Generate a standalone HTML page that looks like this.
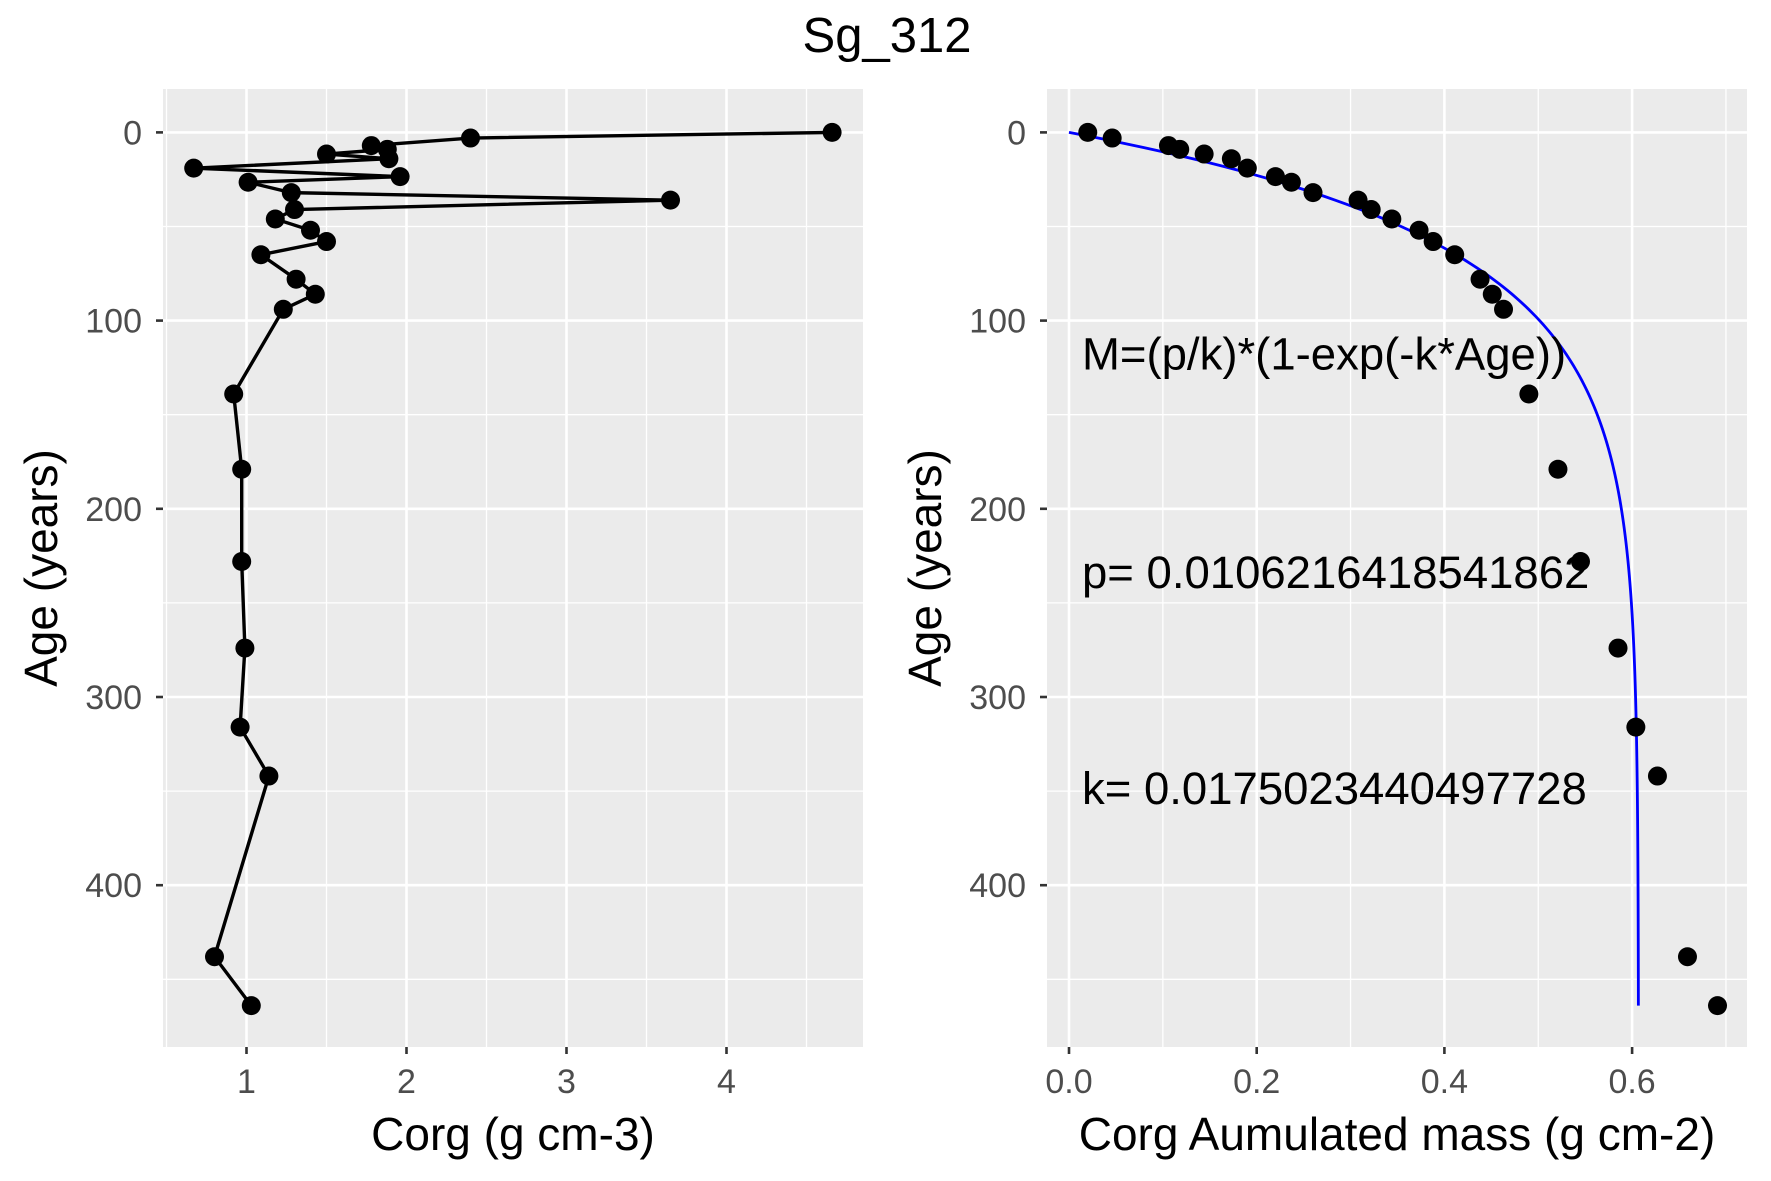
<!DOCTYPE html>
<html><head><meta charset="utf-8"><style>
body{margin:0;background:#fff;}
svg{display:block;font-family:"Liberation Sans",sans-serif;}
</style></head><body>
<svg id="chart" width="1771" height="1181">
<text x="887" y="52" font-size="49" text-anchor="middle">Sg_312</text>
<g id="left"></g>
<g id="right"></g>
</svg>
<script>
const ages = [0,3,7,9,11.5,14,19,23.5,26.5,32,36,41,46,52,58,65,78,86,94,139,179,228,274,316,342,438,464];
const corg = [4.66,2.40,1.78,1.88,1.50,1.89,0.67,1.96,1.01,1.28,3.65,1.30,1.18,1.40,1.50,1.09,1.31,1.43,1.23,0.92,0.97,0.97,0.99,0.96,1.14,0.80,1.03];
const cumMass = [0.020,0.046,0.106,0.118,0.144,0.173,0.190,0.220,0.237,0.260,0.308,0.322,0.344,0.373,0.388,0.411,0.438,0.451,0.463,0.490,0.521,0.545,0.585,0.604,0.627,0.659,0.691];
const fitP = 0.0106216418541862;
const fitK = 0.0175023440497728;
const yTicks = [0,100,200,300,400];
const yMinor = [50,150,250,350,450];
const leftXTicks = [1,2,3,4];
const leftXMinor = [0.5,1.5,2.5,3.5,4.5];
const rightXTicks = [0,0.2,0.4,0.6];
const rightXTickLabels = ["0.0","0.2","0.4","0.6"];
const rightXMinor = [0.1,0.3,0.5,0.7];
const annotations = ["M=(p/k)*(1-exp(-k*Age))","p= 0.0106216418541862","k= 0.0175023440497728"];
const annotAges = [118,234,349];

const NS="http://www.w3.org/2000/svg";
function mk(parent,tag,attrs){const e=document.createElementNS(NS,tag);for(const k in attrs)e.setAttribute(k,attrs[k]);parent.appendChild(e);return e;}
const pTop=89,pBot=1047;
const yS=a=>132.4+a*1.882;

function panel(g,x0,x1,xS,xt,xtl,xm,xtitle,name){
  const bg=mk(g,'rect',{x:x0,y:pTop,width:x1-x0,height:pBot-pTop,fill:'#ebebeb'});
  
  
  yMinor.forEach(v=>{const l=mk(g,'line',{x1:x0,x2:x1,y1:yS(v),y2:yS(v),stroke:'#fff','stroke-width':1.3});
    
    });
  xm.forEach(v=>{const X=xS(v);if(X<x0||X>x1)return;const l=mk(g,'line',{x1:X,x2:X,y1:pTop,y2:pBot,stroke:'#fff','stroke-width':1.3});
    
    });
  yTicks.forEach(v=>{const Y=yS(v);
    const l=mk(g,'line',{x1:x0,x2:x1,y1:Y,y2:Y,stroke:'#fff','stroke-width':2.6});
    
    
    const t=mk(g,'line',{x1:x0-7,x2:x0,y1:Y,y2:Y,stroke:'#333','stroke-width':2.6});
    
    
    const tx=mk(g,'text',{x:x0-21,y:Y+12,'font-size':34,fill:'#4d4d4d','text-anchor':'end'});tx.textContent=v;
    
    });
  xt.forEach((v,i)=>{const X=xS(v);
    const l=mk(g,'line',{x1:X,x2:X,y1:pTop,y2:pBot,stroke:'#fff','stroke-width':2.6});
    
    
    const t=mk(g,'line',{x1:X,x2:X,y1:pBot,y2:pBot+7,stroke:'#333','stroke-width':2.6});
    
    
    const tx=mk(g,'text',{x:X,y:pBot+46,'font-size':34,fill:'#4d4d4d','text-anchor':'middle'});tx.textContent=xtl[i];
    
    });
  const xtT=mk(g,'text',{x:(x0+x1)/2,y:1150,'font-size':46,'text-anchor':'middle'});xtT.textContent=xtitle;
  
  
  const yc=(pTop+pBot)/2, yx=x0-106;
  const ytT=mk(g,'text',{x:yx,y:yc,'font-size':46,'text-anchor':'middle',transform:`rotate(-90 ${yx} ${yc})`});ytT.textContent='Age (years)';
  
  
}

// left
const L=document.getElementById('left');
const lxS=v=>246.5+(v-1)*160;
panel(L,163,863,lxS,leftXTicks,leftXTicks.map(String),leftXMinor,'Corg (g cm-3)','left-panel');
const pl=mk(L,'polyline',{points:ages.map((a,i)=>lxS(corg[i])+','+yS(a)).join(' '),fill:'none',stroke:'#000','stroke-width':3.4});


ages.forEach((a,i)=>{const c=mk(L,'circle',{cx:lxS(corg[i]),cy:yS(a),r:9.5,fill:'#000'});
  
  });

// right
const R=document.getElementById('right');
const rxS=v=>1069+v*938.5;
panel(R,1047,1747,rxS,rightXTicks,rightXTickLabels,rightXMinor,'Corg Aumulated mass (g cm-2)','right-panel');
const curvePts=[];
for(let a=0;a<=464;a+=2){curvePts.push(rxS(fitP/fitK*(1-Math.exp(-fitK*a)))+','+yS(a));}
const cv=mk(R,'polyline',{points:curvePts.join(' '),fill:'none',stroke:'#0000ff','stroke-width':2.8});


ages.forEach((a,i)=>{const c=mk(R,'circle',{cx:rxS(cumMass[i]),cy:yS(a),r:9.5,fill:'#000'});
  
  });
annotations.forEach((s,i)=>{const t=mk(R,'text',{x:1082,y:yS(annotAges[i])+15,'font-size':45.5});t.textContent=s;
  
  });
</script>
</body></html>
